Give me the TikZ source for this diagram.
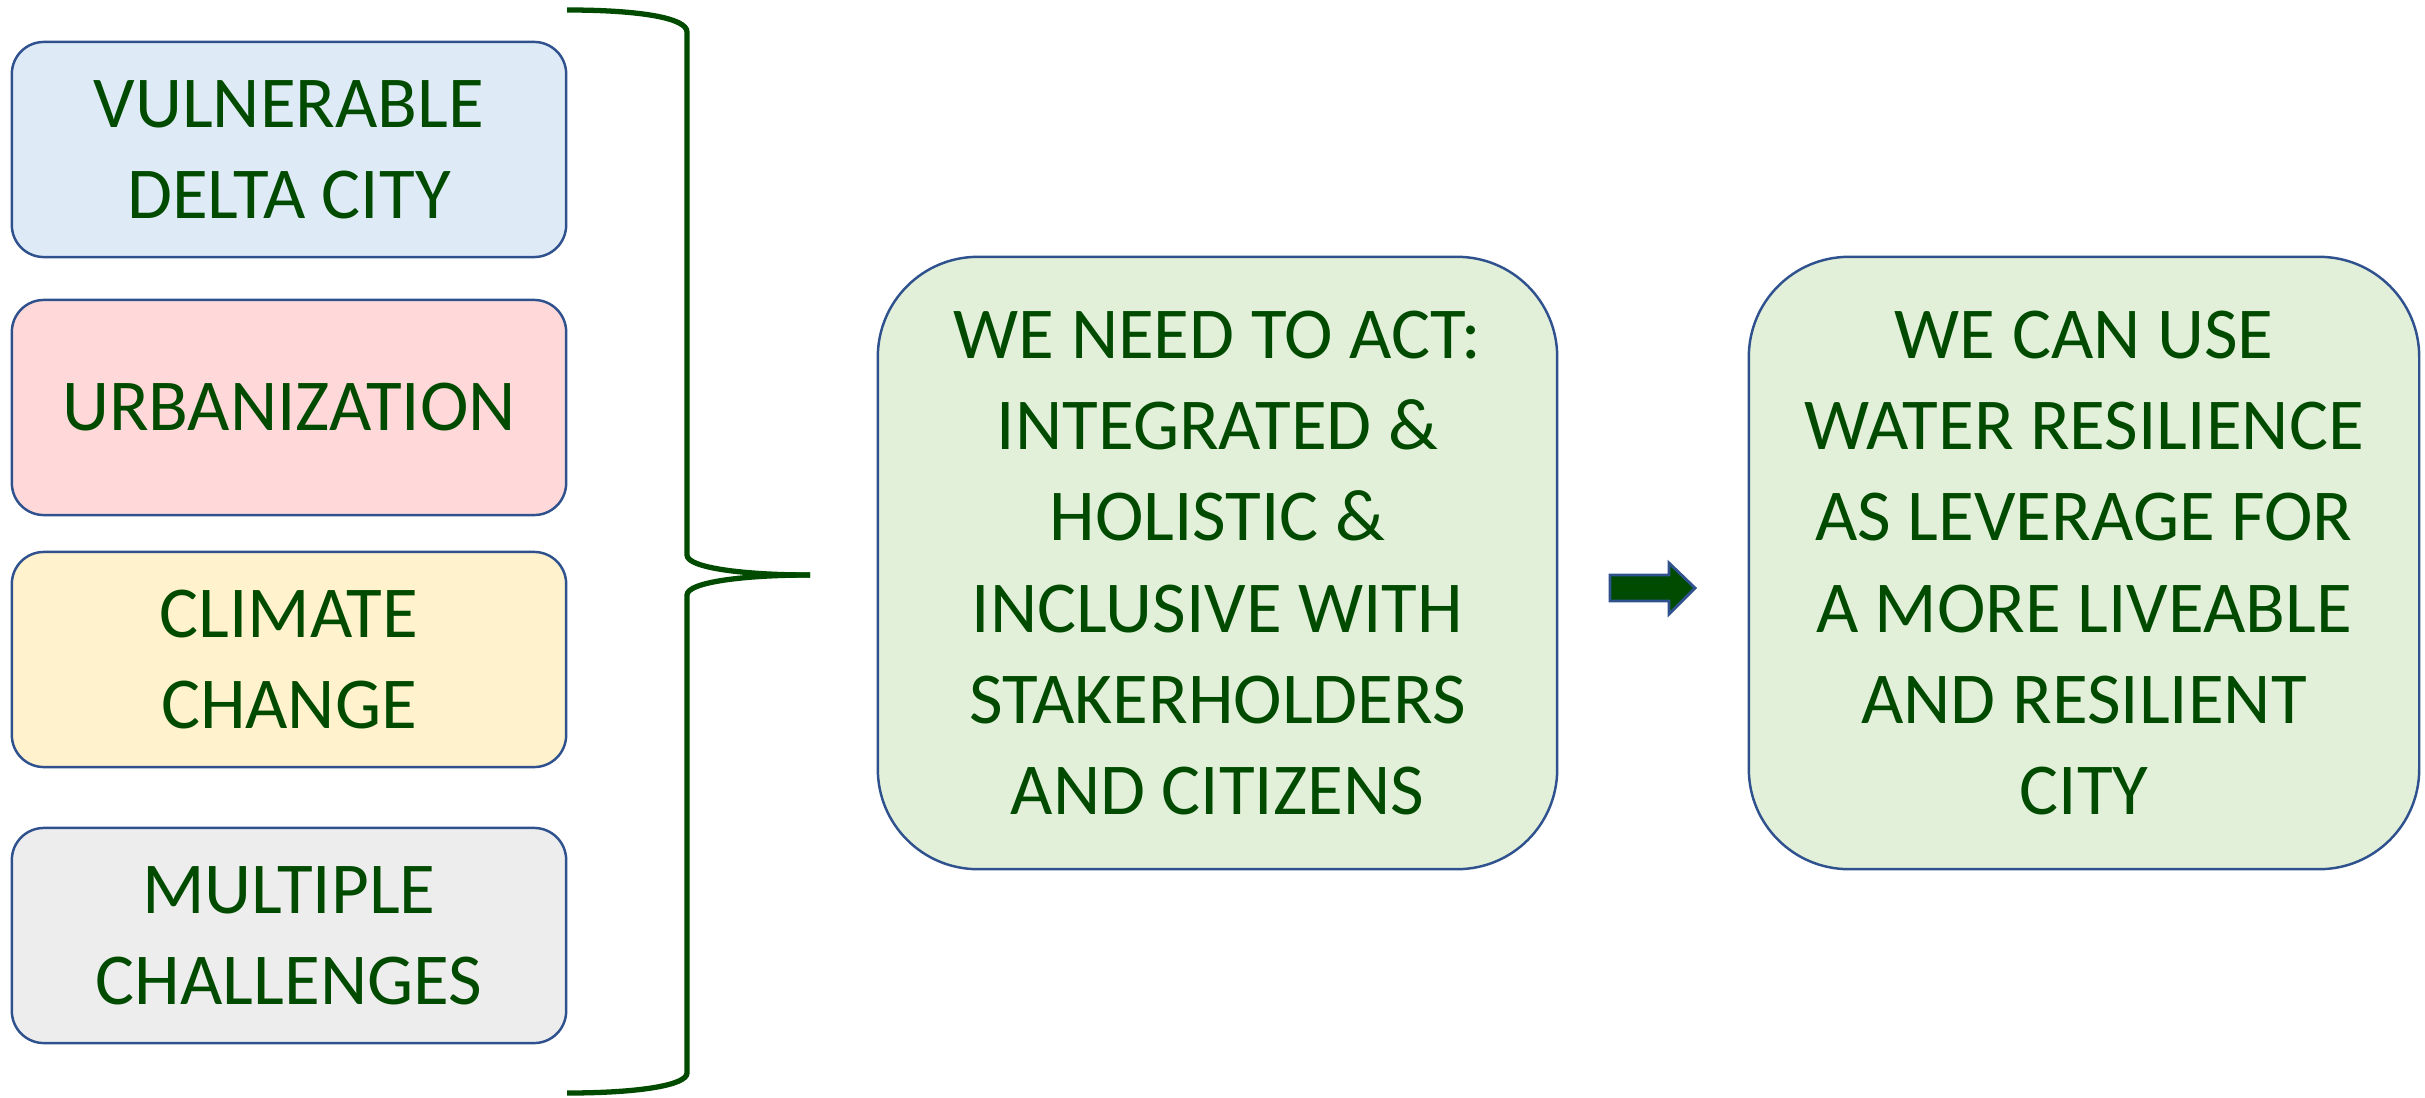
\documentclass[tikz,border=0pt]{standalone}
\usepackage{fontspec}
\setmainfont{Carlito}
\definecolor{bordc}{HTML}{2F528F}
\definecolor{txtc}{HTML}{004B00}
\definecolor{fblue}{HTML}{DEEBF7}
\definecolor{fpink}{HTML}{FFD9D9}
\definecolor{fyellow}{HTML}{FFF2CC}
\definecolor{fgray}{HTML}{EDEDED}
\definecolor{fgreen}{HTML}{E2F0D9}
\begin{document}
\begin{tikzpicture}[x=0.01cm,y=-0.01cm,
  boxbase/.style={draw=bordc, line width=0.7pt, align=center, text=txtc,
    font=\fontsize{20.8}{25.9}\selectfont, inner sep=0pt},
  leftbox/.style={boxbase, rounded corners=0.32cm, minimum width=5.54cm, minimum height=2.15cm},
  bigbox/.style={boxbase, fill=fgreen, rounded corners=1cm, minimum height=6.12cm},
  bracestyle/.style={draw=txtc, line width=1.5pt},
  arrowstyle/.style={fill=txtc, draw=bordc, line width=0.8pt, line join=miter}]
\useasboundingbox (0,0) rectangle (2425,1097);

\node[leftbox, fill=fblue] (vdc) at (289,149.5) {VULNERABLE\\DELTA CITY};
\node[leftbox, fill=fpink] (urb) at (289,407.5) {URBANIZATION};
\node[leftbox, fill=fyellow] (clc) at (289,659.5) {CLIMATE\\CHANGE};
\node[leftbox, fill=fgray] (mch) at (289,935.5) {MULTIPLE\\CHALLENGES};

\node[bigbox, minimum width=6.79cm] (act) at (1217.5,563)
  {WE NEED TO ACT:\\INTEGRATED \&\\HOLISTIC \&\\INCLUSIVE WITH\\STAKERHOLDERS\\AND CITIZENS};
\node[bigbox, minimum width=6.70cm] (use) at (2084,563)
  {WE CAN USE\\WATER RESILIENCE\\AS LEVERAGE FOR\\A MORE LIVEABLE\\AND RESILIENT\\CITY};

% brace
\draw[bracestyle] (567,10) .. controls (640,10) and (687,18) .. (687,32)
  -- (687,555) .. controls (687,568) and (745,575) .. (810,575);
\draw[bracestyle] (810,575) .. controls (745,575) and (687,582) .. (687,595)
  -- (687,1073) .. controls (687,1085) and (640,1093) .. (567,1093);

% block arrow
\draw[arrowstyle] (1610,575) -- (1669,575) -- (1669,563) -- (1695,588)
  -- (1669,614) -- (1669,601) -- (1610,601) -- cycle;
\end{tikzpicture}
\end{document}
